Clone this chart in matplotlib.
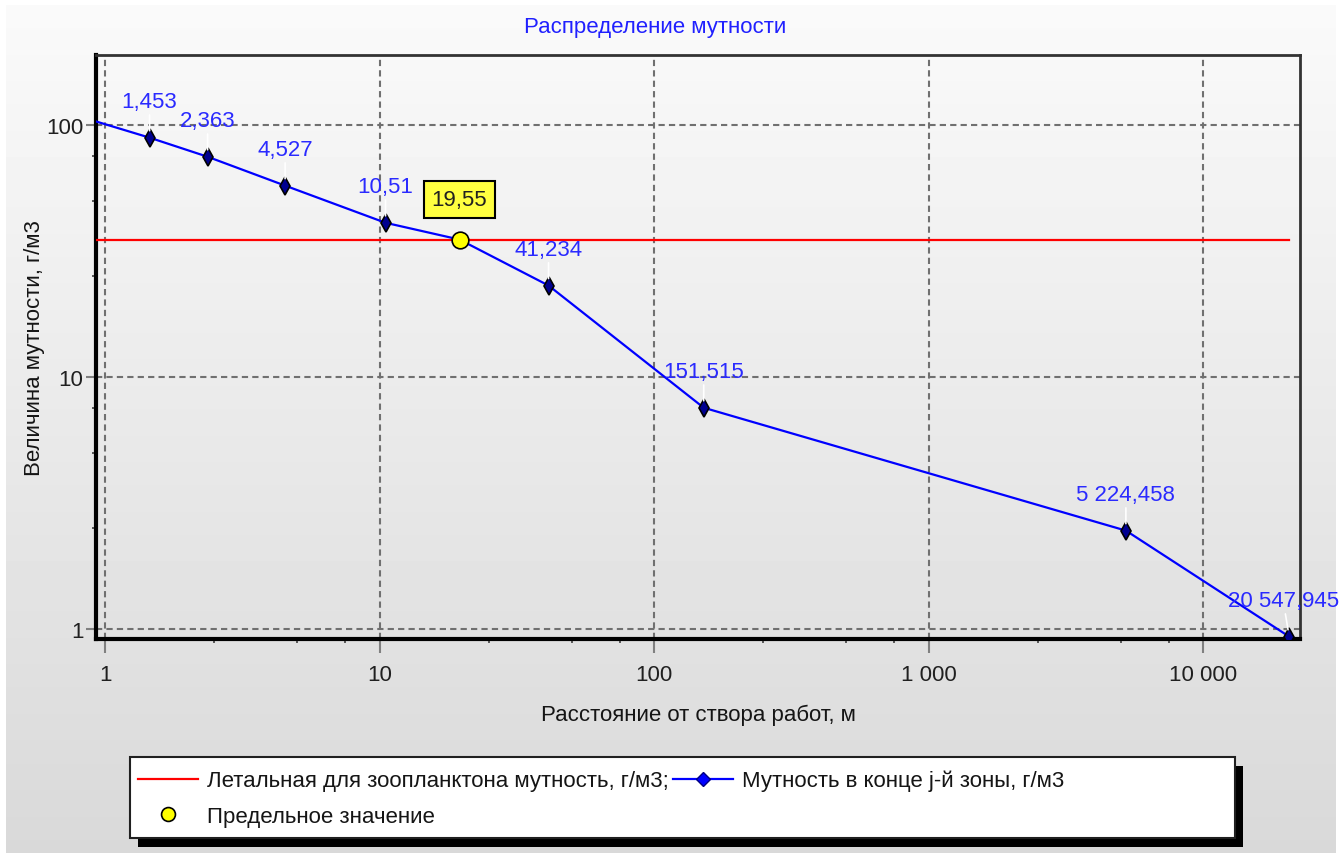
import numpy as np
import matplotlib
matplotlib.use("Agg")
import matplotlib.pyplot as plt
from matplotlib.lines import Line2D
from matplotlib.patches import Rectangle
from matplotlib.ticker import FixedLocator, NullFormatter

plt.rcParams['font.family'] = ['Liberation Sans', 'DejaVu Sans']

# Данные: расстояние от створа работ (м) и мутность (г/м3)
line_dist = [0.9, 1.453, 2.363, 4.527, 10.51, 19.55, 41.234, 151.515, 5224.458, 20547.945]
line_turb = [104.0, 88.8, 74.6, 57.3, 40.8, 35.0, 23.0, 7.53, 2.45, 0.93]
point_dist = [1.453, 2.363, 4.527, 10.51, 41.234, 151.515, 5224.458, 20547.945]
point_turb = [88.8, 74.6, 57.3, 40.8, 23.0, 7.53, 2.45, 0.93]
lethal_level = 35.0
lethal_range = [0.5, 20547.945]
limit_dist = 19.55
limit_turb = 35.0

x_ticks = [1, 10, 100, 1000, 10000]
x_tick_labels = ['1', '10', '100', '1 000', '10 000']
y_ticks = [1, 10, 100]
y_tick_labels = ['1', '10', '100']

FS = 16


def fmt_ru(v):
    s = f"{v:,.3f}".rstrip('0').rstrip('.')
    return s.replace(',', ' ').replace('.', ',')


W, H = 1340, 854
fig = plt.figure(figsize=(W / 100, H / 100), dpi=100)
fig.patch.set_facecolor('white')

# фон с градиентом
bg = fig.add_axes([6 / W, 0, (1336 - 6) / W, (H - 6) / H], zorder=-10)
grad = np.linspace(0.98, 0.85, 256).reshape(-1, 1)
bg.imshow(grad, aspect='auto', cmap='gray', vmin=0, vmax=1, extent=[0, 1, 0, 1])
bg.axis('off')

ax = fig.add_axes([96 / W, 1 - 640 / H, (1300 - 96) / W, (640 - 56) / H])
ax.set_facecolor('none')
ax.set_xscale('log')
ax.set_yscale('log')
ax.set_xlim(0.927, 22500)
ax.set_ylim(0.91, 189)

ax.plot(lethal_range, [lethal_level, lethal_level], color='#ff0000', lw=1.6, zorder=3)
ax.plot(line_dist, line_turb, color='#0000ff', lw=1.6, zorder=4)
ax.plot(point_dist, point_turb, ls='none', marker='d', ms=9, mfc='#000090',
        mec='black', mew=1.2, zorder=5)
ax.plot([limit_dist], [limit_turb], ls='none', marker='o', ms=12, mfc='#ffff00',
        mec='black', mew=1.2, zorder=6)

for i, (xv, yv) in enumerate(zip(point_dist, point_turb)):
    dx = -6 if i == len(point_dist) - 1 else 0
    ax.annotate(fmt_ru(xv), xy=(xv, yv), xytext=(dx, 36), textcoords='offset pixels',
                ha='center', va='center', fontsize=FS, color='#2a2aff', zorder=7,
                annotation_clip=False,
                arrowprops=dict(arrowstyle='-', color='white', lw=1.2,
                                shrinkA=0, shrinkB=5))

ax.annotate(fmt_ru(limit_dist), xy=(limit_dist, limit_turb), xytext=(0, 40),
            textcoords='offset pixels', ha='center', va='center', fontsize=FS,
            color='#202020', zorder=8,
            bbox=dict(boxstyle='square,pad=0.35', fc='#ffff40', ec='black', lw=1.5))

ax.grid(True, which='major', color='#707070', ls=(0, (3, 2)), lw=1.5)
ax.xaxis.set_major_locator(FixedLocator(x_ticks))
ax.set_xticklabels(x_tick_labels)
ax.yaxis.set_major_locator(FixedLocator(y_ticks))
ax.set_yticklabels(y_tick_labels)
ax.xaxis.set_minor_locator(FixedLocator([m * 10 ** k for k in range(0, 5) for m in (2.5, 5, 7.5)]))
ax.yaxis.set_minor_locator(FixedLocator([m * 10 ** k for k in range(0, 3) for m in (2.5, 5, 7.5)]))
ax.xaxis.set_minor_formatter(NullFormatter())
ax.yaxis.set_minor_formatter(NullFormatter())
ax.tick_params(which='major', width=1.5, color='#808080',
               labelsize=FS, labelcolor='#202020')
ax.tick_params(axis='x', which='major', length=10, pad=8)
ax.tick_params(axis='y', which='major', length=7, pad=2)
ax.tick_params(which='minor', length=3, width=1.2, color='#404040')
ax.tick_params(top=False, right=False, which='both')

for side in ('left', 'bottom'):
    ax.spines[side].set_linewidth(3)
    ax.spines[side].set_color('black')
for side in ('top', 'right'):
    ax.spines[side].set_linewidth(2)
    ax.spines[side].set_color('#333333')

ax.set_xlabel('Расстояние от створа работ, м', fontsize=FS, color='#151515')
ax.set_ylabel('Величина мутности, г/м3', fontsize=FS, color='#151515')
ax.xaxis.set_label_coords(0.5, -(705 - 640) / (640 - 56))
ax.yaxis.set_label_coords(-(96 - 45) / (1300 - 96), 0.5)
fig.text(655 / W, 1 - 27 / H, 'Распределение мутности', ha='center',
         va='center', fontsize=FS, color='#2020ff')

# легенда: рамка с тенью
fig.patches.append(Rectangle((138 / W, 1 - 848 / H), (1243 - 138) / W, (848 - 767) / H,
                             transform=fig.transFigure, fc='black', ec='none', zorder=4))
fig.patches.append(Rectangle((130 / W, 1 - 839 / H), (1235 - 130) / W, (839 - 758) / H,
                             transform=fig.transFigure, fc='white', ec='#202020', lw=1.5,
                             zorder=4.5))
handles = [
    Line2D([], [], color='#ff0000', lw=1.6),
    Line2D([], [], ls='none', marker='o', ms=10, mfc='#ffff00', mec='black', mew=1.2),
    Line2D([], [], color='#0000ff', lw=1.6, marker='D', ms=7, mfc='#0000ff', mec='#000080'),
]
labels = ['Летальная для зоопланктона мутность, г/м3;', 'Предельное значение',
          'Мутность в конце j-й зоны, г/м3']
leg = fig.legend(handles, labels, loc='upper left', bbox_to_anchor=(138 / W, 1 - 771 / H),
                 ncol=2, frameon=False, fontsize=FS, borderpad=0, borderaxespad=0,
                 handlelength=2.7, handletextpad=0.4, columnspacing=0.2,
                 labelspacing=0.65)
leg.set_zorder(5)
for t in leg.get_texts():
    t.set_color('#151515')

fig.savefig('out.png', dpi=100)
